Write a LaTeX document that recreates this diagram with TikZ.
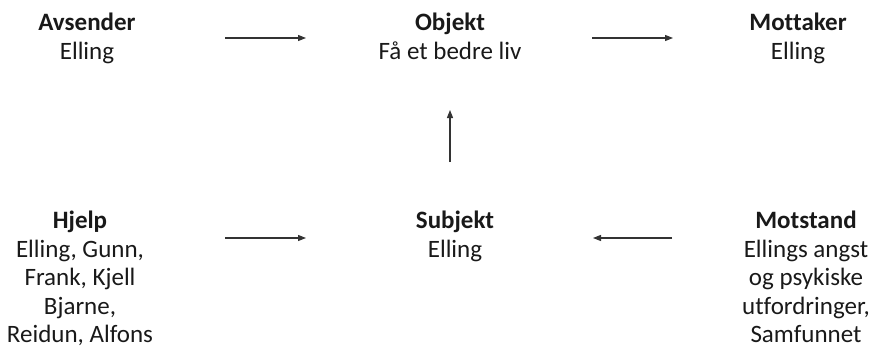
\documentclass[tikz,border=0pt]{standalone}
\usepackage{fontspec}
\setmainfont[Ligatures=NoCommon]{Carlito}
\usetikzlibrary{arrows.meta}
\begin{document}
\begin{tikzpicture}[x=1pt,y=-1pt,
  blk/.style={align=center,inner sep=0pt,anchor=north,font=\fontsize{25}{28.5}\selectfont,text=black!90},
  arr/.style={draw=black!80,line width=1.1pt,-{Triangle[length=8pt,width=6pt]}}]
\useasboundingbox (0,0) rectangle (880,356);
\node[blk] (avs) at (87,13) {\textbf{Avsender}\\Elling};
\node[blk] (obj) at (450,13) {\textbf{Objekt}\\Få et bedre liv};
\node[blk] (mot) at (798,13) {\textbf{Mottaker}\\Elling};
\node[blk] (hje) at (80,211) {\textbf{Hjelp}\\Elling, Gunn,\\Frank, Kjell\\Bjarne,\\Reidun, Alfons};
\node[blk] (sub) at (455,211) {\textbf{Subjekt}\\Elling};
\node[blk] (mst) at (806,211) {\textbf{Motstand}\\Ellings angst\\og psykiske\\utfordringer,\\Samfunnet};
\coordinate (a1s) at (225,38);
\coordinate (a1e) at (306,38);
\coordinate (a2s) at (592,38);
\coordinate (a2e) at (673,38);
\coordinate (a3s) at (450,162);
\coordinate (a3e) at (450,110);
\coordinate (a4s) at (225,238);
\coordinate (a4e) at (306,238);
\coordinate (a5s) at (672,238);
\coordinate (a5e) at (593,238);
\draw[arr] (a1s) -- (a1e);
\draw[arr] (a2s) -- (a2e);
\draw[arr] (a3s) -- (a3e);
\draw[arr] (a4s) -- (a4e);
\draw[arr] (a5s) -- (a5e);
\end{tikzpicture}
\end{document}
